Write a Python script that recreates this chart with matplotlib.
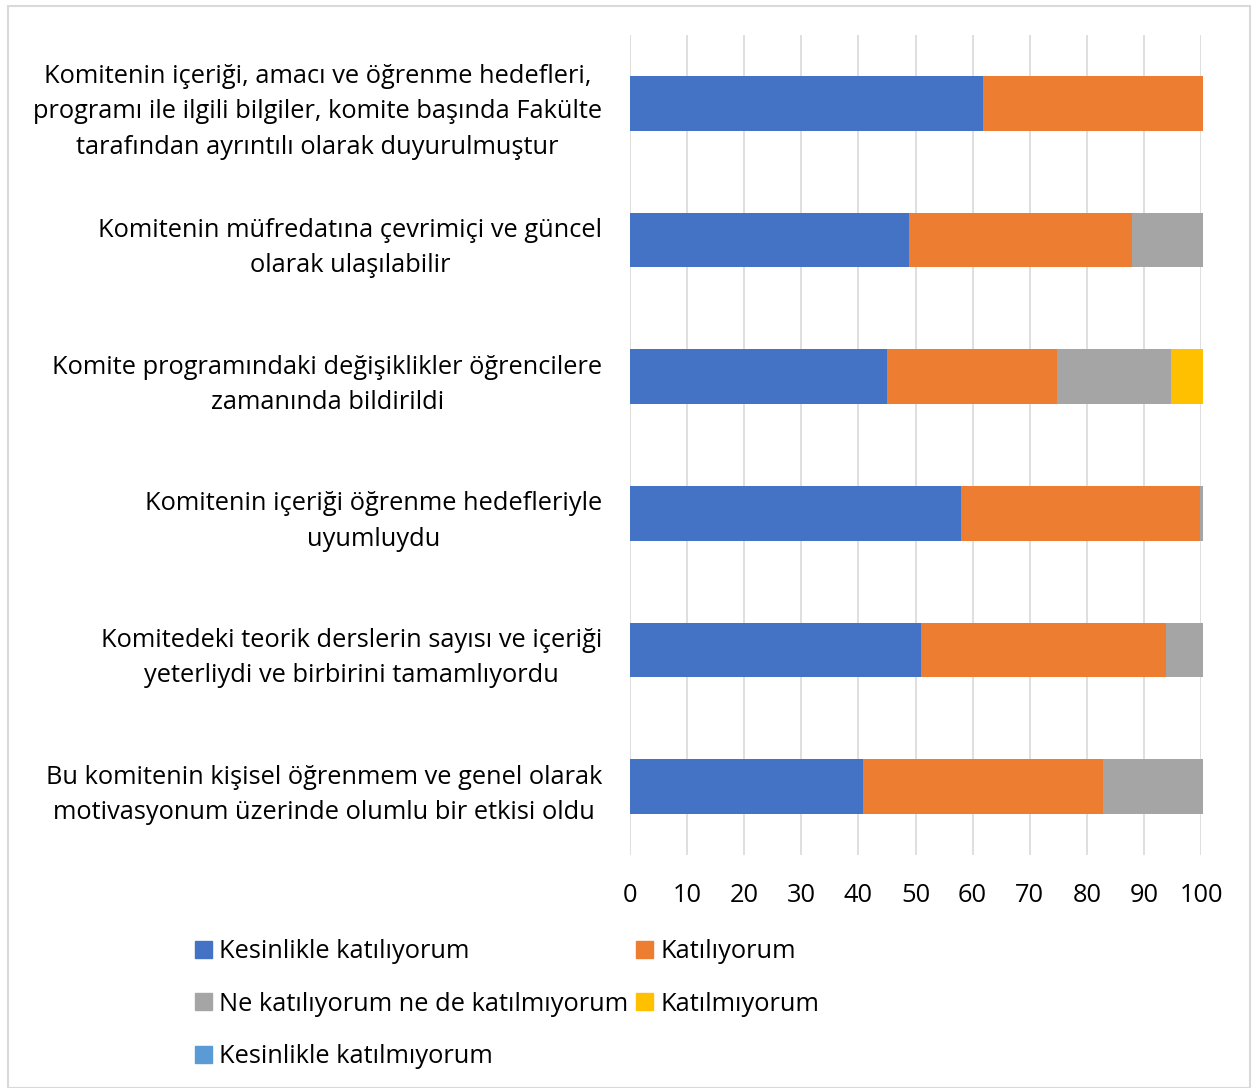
import matplotlib.pyplot as plt
from matplotlib.patches import Rectangle, Patch

plt.rcParams['font.family'] = ['Open Sans', 'DejaVu Sans']

questions = [
    'Komitenin içeriği, amacı ve öğrenme hedefleri,\nprogramı ile ilgili bilgiler, komite başında Fakülte\ntarafından ayrıntılı olarak duyurulmuştur',
    'Komitenin müfredatına çevrimiçi ve güncel\nolarak ulaşılabilir',
    'Komite programındaki değişiklikler öğrencilere\nzamanında bildirildi',
    'Komitenin içeriği öğrenme hedefleriyle\nuyumluydu',
    'Komitedeki teorik derslerin sayısı ve içeriği\nyeterliydi ve birbirini tamamlıyordu',
    'Bu komitenin kişisel öğrenmem ve genel olarak\nmotivasyonum üzerinde olumlu bir etkisi oldu',
]

series_names = ['Kesinlikle katılıyorum', 'Katılıyorum',
                'Ne katılıyorum ne de katılmıyorum', 'Katılmıyorum',
                'Kesinlikle katılmıyorum']
colors = ['#4472C4', '#ED7D31', '#A5A5A5', '#FFC000', '#5B9BD5']

kesinlikle_katiliyorum = [61.8, 48.8, 45.0, 58.0, 50.9, 40.8]
katiliyorum = [38.5, 39.1, 29.8, 41.9, 43.0, 42.1]
kararsiz = [0.0, 12.5, 20.0, 0.5, 6.5, 17.5]
katilmiyorum = [0.0, 0.0, 5.6, 0.0, 0.0, 0.0]
kesinlikle_katilmiyorum = [0.0, 0.0, 0.0, 0.0, 0.0, 0.0]

values = [kesinlikle_katiliyorum, katiliyorum, kararsiz, katilmiyorum,
          kesinlikle_katilmiyorum]

W, H = 1258, 1088
FS = 18.3
fig = plt.figure(figsize=(W / 100, H / 100), dpi=100)
ax = fig.add_axes([630 / W, (H - 855) / H, (1201 - 630) / W, (855 - 35) / H])

ypos = list(range(len(questions)))
left = [0.0] * len(questions)
for name, vals, c in zip(series_names, values, colors):
    bars = ax.barh(ypos, vals, left=left, height=0.4, color=c, label=name,
                   zorder=3)
    for b in bars:
        b.set_clip_on(False)
    left = [l + v for l, v in zip(left, vals)]

ax.set_xlim(0, 100)
ax.set_ylim(len(questions) - 0.5, -0.5)
ax.set_xticks(range(0, 101, 10))
ax.set_yticks(ypos)
ax.set_yticklabels(questions, ha='right', multialignment='center',
                   linespacing=1.55)
ax.tick_params(axis='both', length=0, labelsize=FS, colors='#000000')
ax.tick_params(axis='y', pad=20)
ax.tick_params(axis='x', pad=20)
ax.grid(axis='x', color='#D9D9D9', linewidth=1.2, zorder=0)
for s in ax.spines.values():
    s.set_visible(False)

handles = [Patch(color=c) for c in colors]
order = [0, 2, 4, 1, 3]
fig.legend([handles[i] for i in order], [series_names[i] for i in order],
           ncol=2, frameon=False, fontsize=FS,
           loc='upper left', bbox_to_anchor=(185 / W, 1 - 929 / H),
           handlelength=0.65, handleheight=0.65, handletextpad=0.3,
           columnspacing=0.3, labelspacing=1.08, borderaxespad=0)

fig.patches.append(Rectangle((8 / W, 0), (W - 16) / W, (H - 6) / H,
                             transform=fig.transFigure, fill=False,
                             edgecolor='#D9D9D9', linewidth=1.5))

fig.savefig('out.png', dpi=100)
